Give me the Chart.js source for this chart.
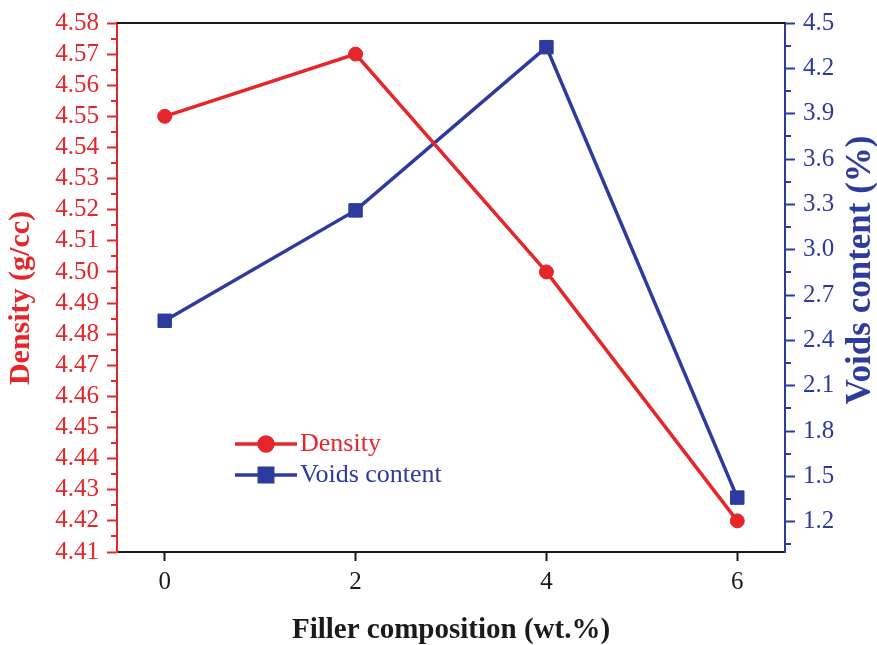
<!DOCTYPE html>
<html>
<head>
<meta charset="utf-8">
<script src="https://cdn.jsdelivr.net/npm/chart.js@4.4.1/dist/chart.umd.min.js"></script>
<style>
  html, body { margin: 0; padding: 0; background: #fff; }
  #wrap { width: 877px; height: 645px; }
</style>
</head>
<body>
<div id="wrap"><canvas id="chart"></canvas></div>
<script>
// --- DATA ---
const fillerWt = [0, 2, 4, 6];
const density = [4.55, 4.57, 4.50, 4.42];
const voidsContent = [2.53, 3.26, 4.34, 1.36];

const xTicks = [0, 2, 4, 6];
const densityTicks = [4.41, 4.42, 4.43, 4.44, 4.45, 4.46, 4.47, 4.48, 4.49, 4.50, 4.51, 4.52, 4.53, 4.54, 4.55, 4.56, 4.57, 4.58];
const densityMinor = [4.415, 4.425, 4.435, 4.445, 4.455, 4.465, 4.475, 4.485, 4.495, 4.505, 4.515, 4.525, 4.535, 4.545, 4.555, 4.565, 4.575];
const voidsTicks = [1.2, 1.5, 1.8, 2.1, 2.4, 2.7, 3.0, 3.3, 3.6, 3.9, 4.2, 4.5];
const voidsMinor = [1.05, 1.35, 1.65, 1.95, 2.25, 2.55, 2.85, 3.15, 3.45, 3.75, 4.05, 4.35];
// --- END DATA ---

const RED = '#e5262b';
const BLUE = '#2d3a9e';
const BLACK = '#1a1a1a';
const SERIF = "'Liberation Serif', 'Times New Roman', serif";

const tickFont = { family: SERIF, size: 25 };

// minor ticks, frame top line, rotated y titles, in-plot legend
const extrasPlugin = {
    id: 'extras',
    afterDraw(chart) {
        const ctx = chart.ctx;
        const area = chart.chartArea;
        const yL = chart.scales.yL, yR = chart.scales.yR;

        ctx.save();
        // top frame line
        ctx.strokeStyle = BLACK;
        ctx.lineWidth = 2;
        ctx.beginPath();
        ctx.moveTo(area.left, area.top);
        ctx.lineTo(area.right, area.top);
        ctx.stroke();

        // minor ticks
        ctx.strokeStyle = RED;
        densityMinor.forEach(v => {
            const y = Math.round(yL.getPixelForValue(v));
            ctx.beginPath();
            ctx.moveTo(area.left - 6, y);
            ctx.lineTo(area.left, y);
            ctx.stroke();
        });
        ctx.strokeStyle = BLUE;
        voidsMinor.forEach(v => {
            const y = Math.round(yR.getPixelForValue(v));
            ctx.beginPath();
            ctx.moveTo(area.right, y);
            ctx.lineTo(area.right + 6, y);
            ctx.stroke();
        });

        // y axis titles (both read bottom to top)
        ctx.textAlign = 'center';
        ctx.textBaseline = 'middle';
        ctx.save();
        ctx.font = 'bold 30px ' + SERIF;
        ctx.translate(21, 298);
        ctx.rotate(-Math.PI / 2);
        ctx.fillStyle = RED;
        ctx.fillText('Density (g/cc)', 0, 0);
        ctx.restore();
        ctx.save();
        ctx.font = 'bold 35px ' + SERIF;
        ctx.translate(861, 270);
        ctx.rotate(-Math.PI / 2);
        ctx.fillStyle = BLUE;
        ctx.fillText('Voids content (%)', 0, 0);
        ctx.restore();

        // legend
        ctx.font = '26px ' + SERIF;
        ctx.textAlign = 'left';
        chart.data.datasets.forEach((ds, i) => {
            const y = area.top + 421 + i * 31;
            const x0 = area.left + 118, x1 = area.left + 180;
            ctx.strokeStyle = ds.borderColor;
            ctx.fillStyle = ds.backgroundColor;
            ctx.lineWidth = ds.borderWidth;
            ctx.beginPath();
            ctx.moveTo(x0, y);
            ctx.lineTo(x1, y);
            ctx.stroke();
            Chart.helpers.drawPoint(ctx, { pointStyle: ds.pointStyle, radius: ds.pointRadius, rotation: 0, borderWidth: 1 }, (x0 + x1) / 2, y);
            ctx.fillStyle = ds.borderColor;
            ctx.fillText(ds.label, x1 + 3, y);
        });
        ctx.restore();
    }
};

new Chart(document.getElementById('chart').getContext('2d'), {
    type: 'line',
    data: {
        datasets: [
            {
                label: 'Density',
                data: fillerWt.map((x, i) => ({ x: x, y: density[i] })),
                yAxisID: 'yL',
                borderColor: RED,
                backgroundColor: RED,
                borderWidth: 3.5,
                pointStyle: 'circle',
                pointRadius: 7,
                pointBorderWidth: 1,
                tension: 0
            },
            {
                label: 'Voids content',
                data: fillerWt.map((x, i) => ({ x: x, y: voidsContent[i] })),
                yAxisID: 'yR',
                borderColor: BLUE,
                backgroundColor: BLUE,
                borderWidth: 3.5,
                pointStyle: 'rect',
                pointRadius: 9.5,
                pointBorderWidth: 1,
                tension: 0
            }
        ]
    },
    options: {
        responsive: true,
        maintainAspectRatio: false,
        animation: false,
        devicePixelRatio: 1,
        layout: { padding: { top: 17, left: 0, right: 0, bottom: 0 } },
        plugins: { legend: { display: false }, tooltip: { enabled: false } },
        scales: {
            x: {
                type: 'linear',
                position: 'bottom',
                min: -0.5,
                max: 6.5,
                afterBuildTicks: s => { s.ticks = xTicks.map(v => ({ value: v })); },
                afterFit: s => { s.height = 93; },
                grid: { drawOnChartArea: false, drawTicks: true, tickLength: 9, tickWidth: 2, tickColor: BLACK },
                border: { color: BLACK, width: 2 },
                ticks: { font: tickFont, color: BLACK, padding: 6, autoSkip: false, maxRotation: 0, callback: v => String(v) },
                title: { display: true, text: 'Filler composition (wt.%)', color: BLACK, padding: 0, font: { family: SERIF, size: 29, weight: 'bold', lineHeight: 1 } }
            },
            yL: {
                type: 'linear',
                position: 'left',
                min: 4.41,
                max: 4.58,
                afterBuildTicks: s => { s.ticks = densityTicks.map(v => ({ value: v })); },
                afterFit: s => { s.width = 117; },
                grid: { drawOnChartArea: false, drawTicks: true, tickLength: 10, tickWidth: 2, tickColor: RED },
                border: { color: RED, width: 2 },
                ticks: { font: tickFont, color: RED, padding: 8, autoSkip: false, callback: v => v.toFixed(2) }
            },
            yR: {
                type: 'linear',
                position: 'right',
                min: 1.0,
                max: 4.5,
                afterBuildTicks: s => { s.ticks = voidsTicks.map(v => ({ value: v })); },
                afterFit: s => { s.width = 92; },
                grid: { drawOnChartArea: false, drawTicks: true, tickLength: 10, tickWidth: 2, tickColor: BLUE },
                border: { color: BLUE, width: 2 },
                ticks: { font: tickFont, color: BLUE, padding: 8, autoSkip: false, callback: v => v.toFixed(1) }
            }
        }
    },
    plugins: [extrasPlugin]
});
</script>
</body>
</html>
